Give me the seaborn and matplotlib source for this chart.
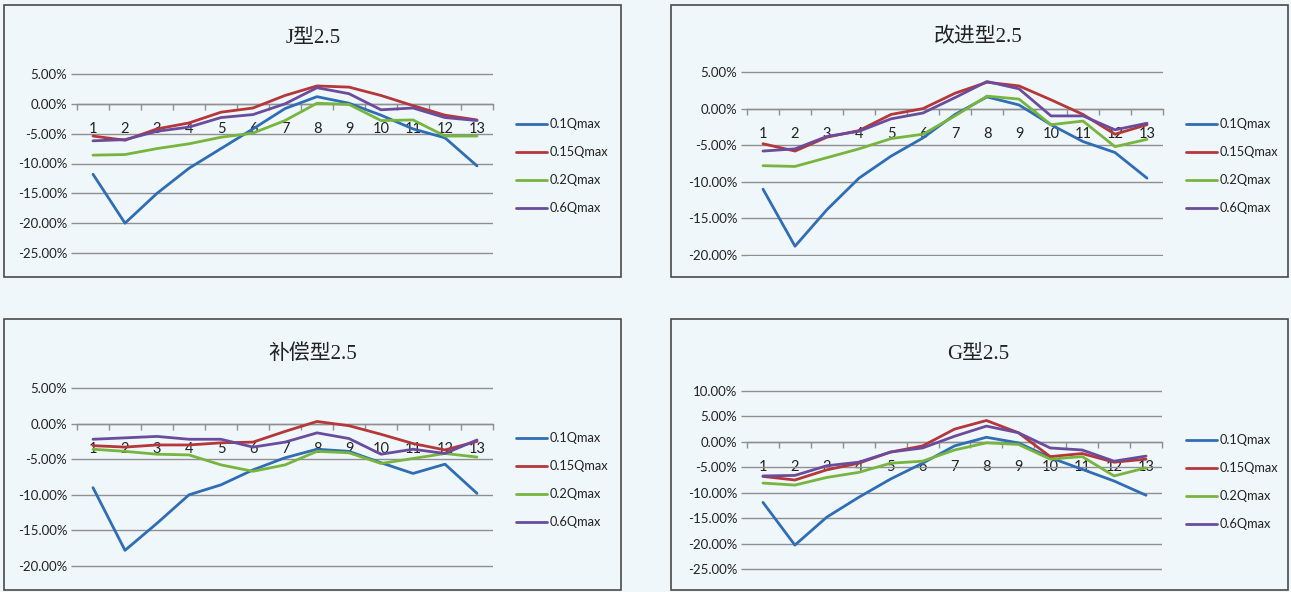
import numpy as np
import pandas as pd
import seaborn as sns
import matplotlib
matplotlib.use("Agg")
import matplotlib.pyplot as plt
from matplotlib.patches import Rectangle
from matplotlib.ticker import PercentFormatter, FixedLocator

# ---------------- data ----------------
categories = list(range(1, 13 + 1))
series_names = ["0.1Qmax", "0.15Qmax", "0.2Qmax", "0.6Qmax"]

titles = ["J型2.5", "改进型2.5", "补偿型2.5", "G型2.5"]

# J型2.5 (values in %)
j_01 = [-11.8, -20.0, -15.0, -10.8, -7.5, -4.2, -0.8, 1.2, 0.1, -1.9, -4.2, -5.7, -10.4]
j_015 = [-5.4, -6.1, -4.2, -3.2, -1.4, -0.7, 1.4, 3.0, 2.8, 1.4, -0.3, -1.9, -2.7]
j_02 = [-8.6, -8.5, -7.5, -6.7, -5.6, -4.9, -2.8, 0.1, -0.1, -2.8, -2.7, -5.4, -5.4]
j_06 = [-6.2, -6.0, -4.6, -3.9, -2.3, -1.8, 0.0, 2.7, 1.7, -1.0, -0.7, -2.3, -2.8]

# 改进型2.5
m_01 = [-11.0, -18.8, -13.8, -9.5, -6.5, -4.0, -0.8, 1.6, 0.5, -2.2, -4.5, -6.0, -9.5]
m_015 = [-4.8, -5.8, -3.9, -3.0, -0.8, 0.0, 2.1, 3.6, 3.1, 1.2, -0.8, -3.5, -2.2]
m_02 = [-7.8, -7.9, -6.7, -5.5, -4.1, -3.5, -1.0, 1.7, 1.3, -2.2, -1.7, -5.2, -4.2]
m_06 = [-5.8, -5.5, -3.8, -3.1, -1.4, -0.6, 1.5, 3.7, 2.7, -1.0, -1.0, -2.9, -2.0]

# 补偿型2.5
c_01 = [-9.0, -17.8, -14.0, -10.0, -8.6, -6.5, -4.8, -3.6, -3.9, -5.5, -7.0, -5.7, -9.8]
c_015 = [-3.1, -3.3, -3.0, -3.0, -2.7, -2.6, -1.1, 0.3, -0.3, -1.5, -2.8, -3.7, -2.5]
c_02 = [-3.6, -3.9, -4.3, -4.4, -5.8, -6.7, -5.8, -3.9, -4.1, -5.6, -4.9, -4.2, -4.7]
c_06 = [-2.2, -2.0, -1.8, -2.2, -2.2, -3.3, -2.6, -1.3, -2.1, -4.3, -3.6, -4.2, -2.3]

# G型2.5
g_01 = [-11.9, -20.3, -14.8, -10.9, -7.3, -4.2, -0.8, 0.9, -0.2, -3.1, -5.4, -7.7, -10.5]
g_015 = [-6.8, -7.5, -5.5, -4.2, -2.0, -0.8, 2.5, 4.2, 1.8, -2.9, -2.3, -4.0, -3.4]
g_02 = [-8.1, -8.5, -7.0, -6.0, -4.2, -3.8, -1.6, -0.2, -0.5, -3.4, -2.9, -6.7, -5.1]
g_06 = [-6.7, -6.6, -4.7, -4.0, -2.0, -1.2, 1.1, 3.1, 1.8, -1.2, -1.6, -3.8, -2.8]

panel_series = [
    [j_01, j_015, j_02, j_06],
    [m_01, m_015, m_02, m_06],
    [c_01, c_015, c_02, c_06],
    [g_01, g_015, g_02, g_06],
]
y_limits = [(-25, 5), (-20, 5), (-20, 5), (-25, 10)]

colors = ["#2F6DB5", "#B5373A", "#77B53F", "#6A4C9C"]

# ---------------- style ----------------
sns.set_theme(style="white")
BG = "#EFF7FA"
plt.rcParams["font.family"] = ["Lato", "DejaVu Sans"]
plt.rcParams["axes.unicode_minus"] = False

W, H = 1291, 592
fig = plt.figure(figsize=(W / 100, H / 100), dpi=100)
fig.patch.set_facecolor(BG)

def fx(px):
    return px / W

def fy(py):
    return 1 - py / H

# panel boxes (pixel coords: left, top, right, bottom)
boxes = [(4, 5, 621, 277), (671, 5, 1288, 277), (4, 319, 621, 590), (671, 319, 1288, 590)]
# axes (left, top, right, bottom)
axes_px = [(77, 74, 493, 253), (747, 72, 1163, 255), (77, 388, 493, 566), (747, 391, 1162, 569)]
title_pos = [(313, 38), (978, 38), (313, 354), (978, 354)]
legend_pos = [(510, 112), (1180, 112), (510, 426), (1180, 428)]

for (l, t, r, b) in boxes:
    fig.patches.append(Rectangle((fx(l), fy(b)), fx(r - l), (b - t) / H,
                                 transform=fig.transFigure, facecolor="none",
                                 edgecolor="#4a4a4a", linewidth=1.2, zorder=-1))

grid_c = "#8f8f8f"

for i in range(4):
    l, t, r, b = axes_px[i]
    lo, hi = y_limits[i]
    span = hi - lo
    pad = span * 1.5 / (b - t)  # a pixel and a half of headroom so edge gridlines are not clipped
    ax = fig.add_axes([fx(l), fy(b + 1.5), fx(r - l), (b - t + 3) / H])
    ax.set_facecolor("none")
    rows = []
    for name, vals in zip(series_names, panel_series[i]):
        for c, v in zip(categories, vals):
            rows.append({"cat": c, "val": v, "series": name})
    df = pd.DataFrame(rows)
    sns.lineplot(data=df, x="cat", y="val", hue="series", hue_order=series_names,
                 palette=colors, linewidth=2.0, ax=ax, legend=True)

    ax.set_ylim(lo - pad, hi + pad)
    ax.set_xlim(0.5, 13.5)
    ax.yaxis.set_major_locator(FixedLocator(np.arange(lo, hi + 0.1, 5)))
    ax.yaxis.set_major_formatter(PercentFormatter(100, decimals=2))
    ax.yaxis.grid(True, color=grid_c, linewidth=1.0)
    ax.xaxis.grid(False)
    ax.set_axisbelow(True)
    for s in ["top", "right", "left"]:
        ax.spines[s].set_visible(False)
    ax.spines["bottom"].set_position(("data", 0))
    ax.spines["bottom"].set_color(grid_c)
    ax.spines["bottom"].set_linewidth(1.0)
    ax.spines["bottom"].set_zorder(0.5)

    ax.set_xticks(np.arange(0.5, 14.0, 1.0))
    ax.set_xticklabels([])
    ax.set_xticks(categories, minor=True)
    ax.set_xticklabels([str(c) for c in categories], minor=True)
    ax.tick_params(axis="x", which="major", direction="out", length=4,
                   color=grid_c, width=1, bottom=True)
    ax.tick_params(axis="x", which="minor", length=0, pad=13,
                   labelsize=10.5, labelcolor="#222222", bottom=True)
    ax.tick_params(axis="y", which="major", direction="out", length=4,
                   color=grid_c, width=1, left=True, labelsize=9.5,
                   labelcolor="#222222", pad=3)
    ax.set_xlabel("")
    ax.set_ylabel("")

    handles, labels = ax.get_legend_handles_labels()
    lx, ly = legend_pos[i]
    ax.legend(handles, labels, loc="upper left",
              bbox_to_anchor=(fx(lx), fy(ly)), bbox_transform=fig.transFigure,
              frameon=False, fontsize=9.2, handlelength=2.4, handletextpad=0.2,
              labelspacing=1.25, borderpad=0, labelcolor="#222222")

    tx, ty = title_pos[i]
    fig.text(fx(tx), fy(ty), titles[i], ha="center", va="center", fontsize=15,
             color="#222222", family=["Liberation Serif", "Noto Sans CJK SC"])

fig.savefig("out.png", dpi=100, facecolor=BG)
